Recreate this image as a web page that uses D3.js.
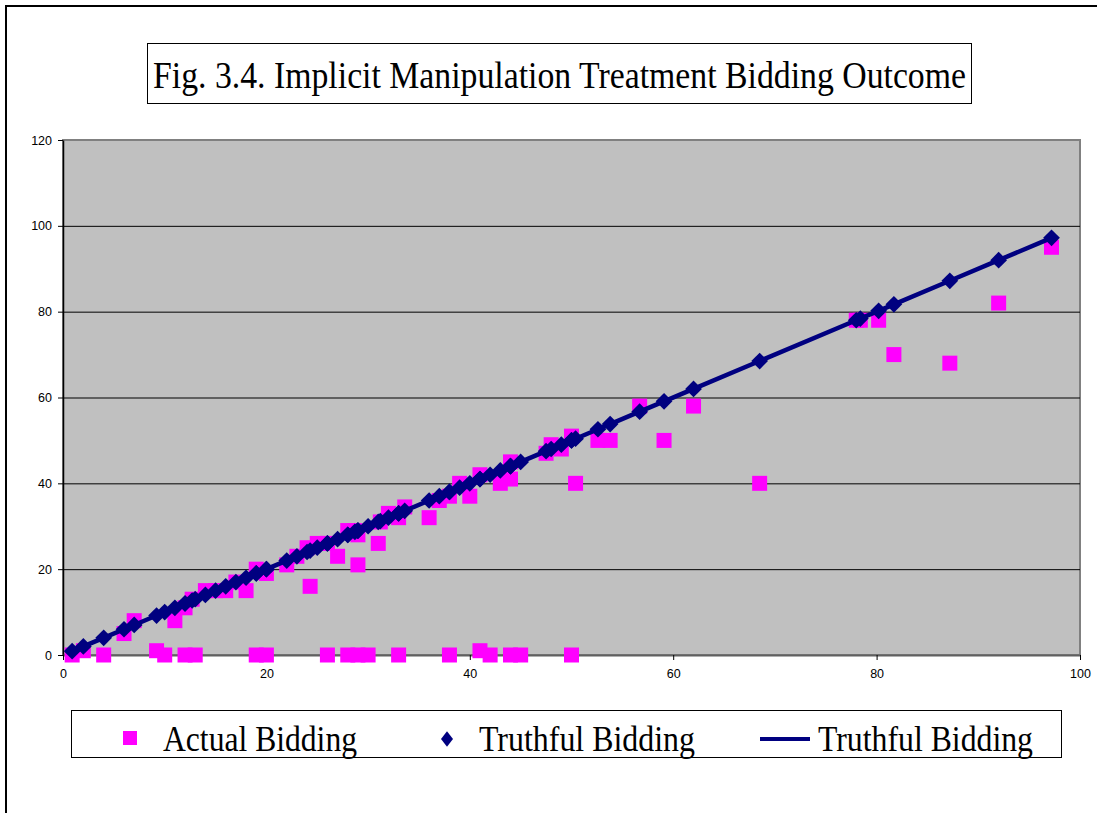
<!DOCTYPE html>
<html>
<head>
<meta charset="utf-8">
<script src="https://cdn.jsdelivr.net/npm/d3@7"></script>
<style>
  body { margin: 0; background: #fff; }
</style>
</head>
<body>
<div id="chart"></div>
<script>
const W = 1097, H = 813;

// bidder valuations (x) and the bids actually placed (y)
const valuation = [0.9, 2, 4, 6, 7, 9.2, 10, 11, 12, 12, 12.7, 13, 14, 15, 16, 17, 18, 19, 19, 20, 20,
  22, 23, 24, 24.3, 25, 26, 26, 27, 28, 28, 28.7, 29, 29, 29, 30, 31, 31.2, 32, 33, 33, 33.6,
  36, 37, 38, 38, 39, 40, 41, 41, 42, 43, 44, 44, 44, 45, 47.5, 48, 49, 50, 50, 50.4,
  52.6, 53.8, 56.7, 59.1, 62, 68.5, 78, 78.4, 80.2, 81.7, 87.2, 92, 97.2];
const actualBid = [0, 1, 0, 5, 8, 1, 0, 8, 0, 11, 13, 0, 15, 15, 15, 17, 15, 20, 0, 19, 0,
  21, 23, 25, 16, 26, 26, 0, 23, 29, 0, 29, 21, 28, 0, 0, 26, 31, 33, 32, 0, 34.5,
  32, 36, 37, 0, 40, 37, 42, 1, 0, 40, 45, 41, 0, 0, 47, 49, 48, 51, 0, 40,
  50, 50, 58, 50, 58, 40, 78, 78, 78, 70, 68, 82, 95];
// truthful bid = valuation
const truthfulBid = valuation;

const xTicks = [0, 20, 40, 60, 80, 100];
const yTicks = [0, 20, 40, 60, 80, 100, 120];
const titleText = "Fig. 3.4. Implicit Manipulation Treatment Bidding Outcome";
const legendLabels = ["Actual Bidding", "Truthful Bidding", "Truthful Bidding"];

const PINK = "#ff00ff", NAVY = "#000080";
const plot = {left: 63, right: 1080, top: 140, bottom: 655};

const x = d3.scaleLinear().domain([0, 100]).range([plot.left, plot.right]);
const y = d3.scaleLinear().domain([0, 120]).range([plot.bottom, plot.top]);

const svg = d3.select("#chart").append("svg")
  .attr("width", W)
  .attr("height", H)
  .attr("viewBox", [0, 0, W, H]);

svg.append("rect").attr("width", W).attr("height", H).attr("fill", "#fff");

// outer frame (top and left edges visible)
svg.append("path")
  .attr("d", `M6,${H} V6 H${W}`)
  .attr("fill", "none")
  .attr("stroke", "#000")
  .attr("stroke-width", 2);

// title box
svg.append("rect")
  .attr("x", 147.5).attr("y", 43.5)
  .attr("width", 824).attr("height", 60)
  .attr("fill", "#fff").attr("stroke", "#000").attr("stroke-width", 1);
svg.append("text")
  .attr("x", 153).attr("y", 88)
  .attr("font-family", "'Liberation Serif', 'Times New Roman', serif")
  .attr("font-size", 38)
  .attr("textLength", 813)
  .attr("lengthAdjust", "spacingAndGlyphs")
  .text(titleText);

// plot area
svg.append("rect")
  .attr("x", plot.left).attr("y", plot.top)
  .attr("width", plot.right - plot.left).attr("height", plot.bottom - plot.top)
  .attr("fill", "#c0c0c0")
  .attr("stroke", "#808080").attr("stroke-width", 2);

// gridlines
svg.append("g")
  .selectAll("line")
  .data(yTicks.filter(d => d > 0 && d < 120))
  .join("line")
  .attr("x1", plot.left).attr("x2", plot.right)
  .attr("y1", d => y(d) + 0.5).attr("y2", d => y(d) + 0.5)
  .attr("stroke", "#000").attr("stroke-width", 1);

const tickFont = "'Liberation Sans', Arial, sans-serif";

// y axis
svg.append("g")
  .attr("transform", `translate(${plot.left},0)`)
  .call(d3.axisLeft(y).tickValues(yTicks).tickSize(5).tickPadding(6).tickSizeOuter(0))
  .call(g => g.select(".domain").attr("stroke", "#000").attr("stroke-width", 1.5))
  .call(g => g.selectAll(".tick line").attr("stroke", "#000"))
  .call(g => g.selectAll("text").attr("font-family", tickFont).attr("font-size", 12.5).attr("fill", "#000"));

// x axis
svg.append("g")
  .attr("transform", `translate(0,${plot.bottom})`)
  .call(d3.axisBottom(x).tickValues(xTicks).tickSize(5).tickPadding(9).tickSizeOuter(0))
  .call(g => g.select(".domain").attr("stroke", "#606060").attr("stroke-width", 2))
  .call(g => g.selectAll(".tick line").attr("stroke", "#000"))
  .call(g => g.selectAll("text").attr("font-family", tickFont).attr("font-size", 12.5).attr("fill", "#000"));

// actual bids
const square = d3.symbol(d3.symbolSquare, 225);
svg.append("g")
  .attr("fill", PINK)
  .selectAll("path")
  .data(valuation.map((v, i) => [v, actualBid[i]]))
  .join("path")
  .attr("d", square)
  .attr("transform", d => `translate(${x(d[0])},${y(d[1])})`);

// truthful line + diamonds
const truthPts = valuation.map((v, i) => [v, truthfulBid[i]]).sort((a, b) => a[0] - b[0]);
const line = d3.line().x(d => x(d[0])).y(d => y(d[1]));
svg.append("path")
  .datum(truthPts)
  .attr("fill", "none")
  .attr("stroke", NAVY)
  .attr("stroke-width", 4.5)
  .attr("stroke-linejoin", "round")
  .attr("d", line);

const diamond = d3.symbol(d3.symbolSquare, 140);
svg.append("g")
  .attr("fill", NAVY)
  .selectAll("path")
  .data(truthPts)
  .join("path")
  .attr("d", diamond)
  .attr("transform", d => `translate(${x(d[0])},${y(d[1])}) rotate(45)`);

// legend
const lg = svg.append("g");
lg.append("rect")
  .attr("x", 71.5).attr("y", 710.5)
  .attr("width", 990).attr("height", 47)
  .attr("fill", "#fff").attr("stroke", "#000").attr("stroke-width", 1);
lg.append("path").attr("d", d3.symbol(d3.symbolSquare, 196))
  .attr("fill", PINK).attr("transform", "translate(130,738)");
lg.append("path").attr("d", d3.symbol(d3.symbolSquare, 100))
  .attr("fill", NAVY).attr("transform", "translate(447,739) scale(0.85,1.1) rotate(45)");
lg.append("line")
  .attr("x1", 760).attr("x2", 810).attr("y1", 739).attr("y2", 739)
  .attr("stroke", NAVY).attr("stroke-width", 4);
const legendX = [163, 479, 818];
const legendLen = [194, 216, 215];
lg.selectAll("text")
  .data(legendLabels)
  .join("text")
  .attr("x", (d, i) => legendX[i])
  .attr("y", 751)
  .attr("font-family", "'Liberation Serif', 'Times New Roman', serif")
  .attr("font-size", 36)
  .attr("textLength", (d, i) => legendLen[i])
  .attr("lengthAdjust", "spacingAndGlyphs")
  .text(d => d);
</script>
</body>
</html>
